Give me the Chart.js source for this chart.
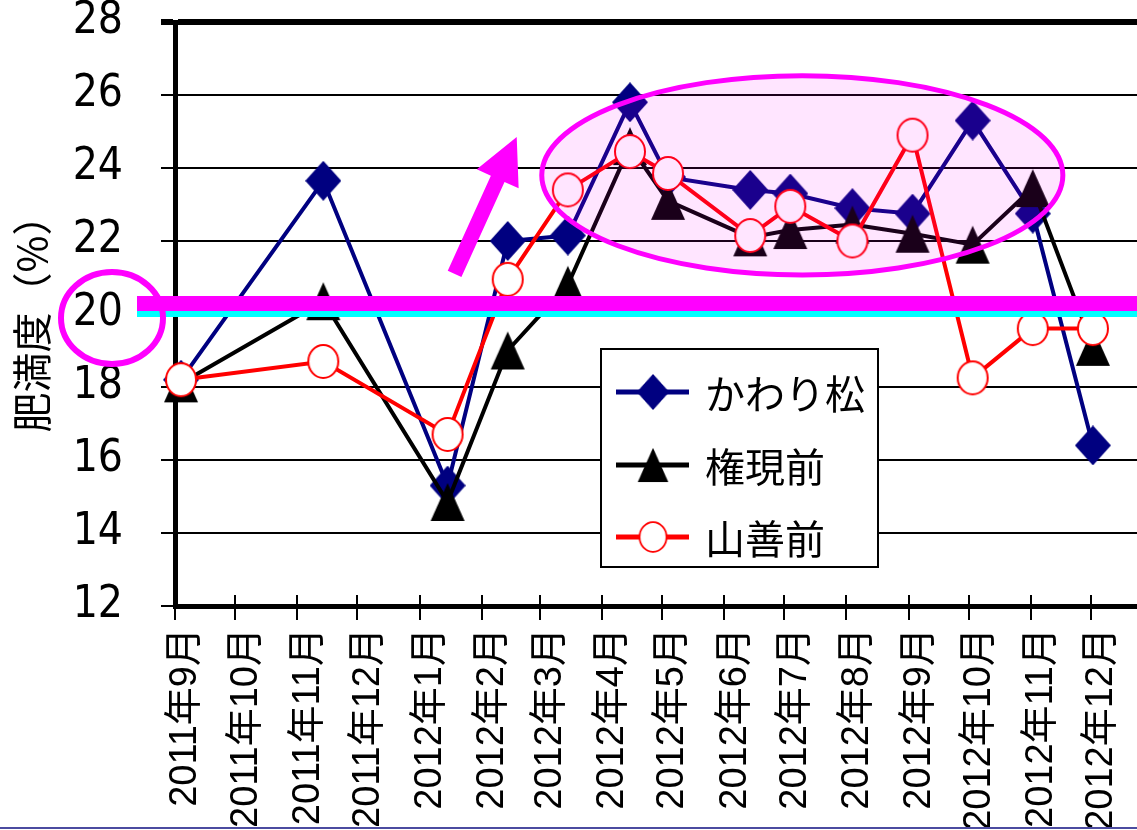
<!DOCTYPE html>
<html lang="ja">
<head>
<meta charset="utf-8">
<title>肥満度</title>
<script src="https://cdn.jsdelivr.net/npm/chart.js@4.4.1/dist/chart.umd.min.js"></script>
<style>
  html, body { margin: 0; padding: 0; background: #fff; }
  #wrap { position: relative; width: 1137px; height: 830px; overflow: hidden; }
  #bottomLine { position: absolute; left: 0; top: 827px; width: 1137px; height: 2px; background: #4b4ba0; }
</style>
</head>
<body>
<div id="wrap">
  <canvas id="fatChart"></canvas>
  <div id="bottomLine"></div>
</div>
<script>
const monthLabels = ['2011年9月', '2011年10月', '2011年11月', '2011年12月', '2012年1月', '2012年2月', '2012年3月', '2012年4月',
  '2012年5月', '2012年6月', '2012年7月', '2012年8月', '2012年9月', '2012年10月', '2012年11月', '2012年12月']
const sampleDates = ['2011-09-04', '2011-11-14', '2012-01-15', '2012-02-14', '2012-03-15', '2012-04-15', '2012-05-04',
  '2012-06-14', '2012-07-04', '2012-08-04', '2012-09-03', '2012-10-03', '2012-11-02', '2012-12-02']
const seriesNames = ['かわり松', '権現前', '山善前']
const kawarimatsu = [18.2, 23.65, 15.3, 22.0, 22.15, 25.8, 23.75, 23.4, 23.3, 22.9, 22.75, 25.3, 22.75, 16.4]
const gongenmae = [18.1, 20.35, 14.85, 19.0, 20.8, 24.6, 23.1, 22.1, 22.3, 22.45, 22.2, 21.9, 23.45, 19.1]
const sanzenmae = [18.2, 18.7, 16.7, 20.95, 23.4, 24.45, 23.85, 22.15, 22.95, 22.0, 24.9, 18.25, 19.6, 19.6]
const yTicks = [12, 14, 16, 18, 20, 22, 24, 26, 28]

const DAY = 86400000
const origin = Date.UTC(2011, 8, 1)

function labelToDay(label) {
  const m = label.match(/(\d+)年(\d+)月/)
  return (Date.UTC(+m[1], +m[2] - 1, 1) - origin) / DAY
}

function dateToDay(str) {
  const [y, m, d] = str.split('-').map(Number)
  return (Date.UTC(y, m - 1, d) - origin) / DAY
}

const monthDays = monthLabels.map(labelToDay)
const sampleDays = sampleDates.map(dateToDay)

function makeMarker(w, h, paint) {
  const c = document.createElement('canvas')
  c.width = w
  c.height = h
  paint(c.getContext('2d'), w, h)
  return c
}

const diamond = makeMarker(36, 40, (ctx, w, h) => {
  ctx.fillStyle = '#000080'
  ctx.beginPath()
  ctx.moveTo(w / 2, 0)
  ctx.lineTo(w, h / 2)
  ctx.lineTo(w / 2, h)
  ctx.lineTo(0, h / 2)
  ctx.closePath()
  ctx.fill()
})

const triangle = makeMarker(36, 40, (ctx, w, h) => {
  ctx.fillStyle = '#000'
  ctx.beginPath()
  ctx.moveTo(w / 2, 1)
  ctx.lineTo(w - 1, h - 1)
  ctx.lineTo(1, h - 1)
  ctx.closePath()
  ctx.fill()
})

const ring = makeMarker(34, 37, (ctx, w, h) => {
  ctx.fillStyle = '#fff'
  ctx.strokeStyle = '#ff0000'
  ctx.lineWidth = 2
  ctx.beginPath()
  ctx.ellipse(w / 2, h / 2, w / 2 - 2, h / 2 - 2, 0, 0, Math.PI * 2)
  ctx.fill()
  ctx.stroke()
})

function makeDataset(label, values, color, marker, order) {
  return {
    label: label,
    data: values.map((v, i) => ({ x: sampleDays[i], y: v })),
    borderColor: color,
    backgroundColor: color,
    borderWidth: 4,
    pointStyle: marker,
    pointRadius: 18,
    tension: 0,
    clip: false,
    order: order
  }
}

const datasets = [
  makeDataset(seriesNames[0], kawarimatsu, '#000080', diamond, 3),
  makeDataset(seriesNames[1], gongenmae, '#000000', triangle, 2),
  makeDataset(seriesNames[2], sanzenmae, '#ff0000', ring, 1)
]

const cjk = "'Noto Sans CJK JP', sans-serif"

function drawLegend(ctx) {
  const box = { x: 601, y: 349, w: 277, h: 218 }
  const rows = [43, 116, 188]
  ctx.save()
  ctx.fillStyle = '#fff'
  ctx.fillRect(box.x, box.y, box.w, box.h)
  ctx.strokeStyle = '#000'
  ctx.lineWidth = 2
  ctx.strokeRect(box.x, box.y, box.w, box.h)
  datasets.forEach((ds, i) => {
    const y = box.y + rows[i]
    ctx.strokeStyle = ds.borderColor
    ctx.lineWidth = 5
    ctx.beginPath()
    ctx.moveTo(box.x + 15, y)
    ctx.lineTo(box.x + 88, y)
    ctx.stroke()
    const m = ds.pointStyle
    const w = m.width * 0.9
    const h = m.height * 0.9
    ctx.drawImage(m, box.x + 52 - w / 2, y - h / 2, w, h)
    ctx.fillStyle = '#000'
    ctx.font = '40px ' + cjk
    ctx.textBaseline = 'middle'
    ctx.fillText(ds.label, box.x + 104, y + 2)
  })
  ctx.restore()
}

const decorations = {
  id: 'decorations',
  // the plot runs out to the right edge of the picture
  afterLayout(chart) {
    const area = chart.chartArea
    const x = chart.scales.x
    area.right = chart.width
    area.width = area.right - area.left
    x.right = area.right
    x.width = area.width
    x.configure()
  },
  afterDatasetsDraw(chart) {
    const ctx = chart.ctx
    const x = chart.scales.x
    const y = chart.scales.y
    const y20 = y.getPixelForValue(20)

    // pink highlight ellipse
    const cx = x.getPixelForValue(313)
    const cy = y.getPixelForValue(23.8)
    const rx = x.getPixelForValue(313 + 130) - cx
    const ry = cy - y.getPixelForValue(23.8 + 2.73)
    ctx.save()
    ctx.fillStyle = 'rgba(255, 0, 255, 0.1)'
    ctx.strokeStyle = '#ff00ff'
    ctx.lineWidth = 5
    ctx.beginPath()
    ctx.ellipse(cx, cy, rx, ry, 0, 0, Math.PI * 2)
    ctx.fill()
    ctx.stroke()

    // arrow
    const tx = x.getPixelForValue(139.5), ty = y.getPixelForValue(21.1)
    const hx = x.getPixelForValue(170.5), hy = y.getPixelForValue(24.85)
    const ang = Math.atan2(hy - ty, hx - tx)
    const len = Math.hypot(hx - tx, hy - ty)
    ctx.translate(tx, ty)
    ctx.rotate(ang)
    ctx.fillStyle = '#ff00ff'
    ctx.beginPath()
    ctx.moveTo(0, -7.5)
    ctx.lineTo(len - 46, -7.5)
    ctx.lineTo(len - 46, -23)
    ctx.lineTo(len, 0)
    ctx.lineTo(len - 46, 23)
    ctx.lineTo(len - 46, 7.5)
    ctx.lineTo(0, 7.5)
    ctx.closePath()
    ctx.fill()
    ctx.restore()

    drawLegend(ctx)

    // reference line at 20
    ctx.save()
    ctx.fillStyle = '#00ffff'
    ctx.fillRect(137, y20 - 3, chart.width - 137, 6)
    ctx.fillStyle = '#ff00ff'
    ctx.fillRect(137, y20 - 18, chart.width - 137, 15)
    ctx.strokeStyle = '#ff00ff'
    ctx.lineWidth = 6
    ctx.beginPath()
    ctx.ellipse(112, y20 + 4, 51, 46, 0, 0, Math.PI * 2)
    ctx.stroke()
    ctx.restore()
  },
  afterDraw(chart) {
    const ctx = chart.ctx
    const x = chart.scales.x
    const bottom = chart.chartArea.bottom
    ctx.save()
    ctx.strokeStyle = '#000'
    ctx.lineWidth = 2
    x.ticks.forEach(t => {
      const px = Math.round(x.getPixelForValue(t.value))
      ctx.beginPath()
      ctx.moveTo(px, bottom - 11)
      ctx.lineTo(px, bottom)
      ctx.stroke()
    })
    ctx.restore()
  }
}

new Chart(document.getElementById('fatChart'), {
  type: 'line',
  data: { datasets: datasets },
  options: {
    animation: false,
    responsive: true,
    maintainAspectRatio: false,
    events: [],
    layout: { padding: { top: 20, right: 0, bottom: 0, left: 0 } },
    plugins: {
      legend: { display: false },
      tooltip: { enabled: false }
    },
    scales: {
      x: {
        type: 'linear',
        min: 0,
        max: 480,
        afterBuildTicks: scale => { scale.ticks = monthDays.map(v => ({ value: v })) },
        afterFit: scale => {
          scale.height = 224
          scale.paddingLeft = 0
          scale.paddingRight = 0
        },
        grid: { drawOnChartArea: false, color: '#000', lineWidth: 2, tickLength: 14 },
        border: { color: '#000', width: 5 },
        ticks: {
          autoSkip: false,
          minRotation: 90,
          maxRotation: 90,
          padding: 8,
          labelOffset: 11,
          color: '#000',
          font: { family: "'Liberation Sans', 'Noto Sans CJK JP', sans-serif", size: 38 },
          callback: (value, index) => monthLabels[index]
        }
      },
      y: {
        min: 12,
        max: 28,
        afterBuildTicks: scale => { scale.ticks = yTicks.map(v => ({ value: v })) },
        afterFit: scale => {
          scale.width = 175
          scale.paddingTop = 0
          scale.paddingBottom = 0
        },
        grid: {
          color: '#000',
          lineWidth: ctx => (ctx.tick && ctx.tick.value === 28 ? 6 : 2),
          tickLength: 14
        },
        border: { color: '#000', width: 5 },
        ticks: {
          padding: 38,
          color: '#000',
          font: { family: "'Liberation Sans Narrow', 'DejaVu Sans Condensed', 'Liberation Sans', sans-serif", size: 44 }
        },
        title: {
          display: true,
          text: '肥満度（%）',
          color: '#000',
          font: { family: cjk, size: 40 },
          padding: { top: 8, bottom: 0 }
        }
      }
    }
  },
  plugins: [decorations]
})
</script>
</body>
</html>
